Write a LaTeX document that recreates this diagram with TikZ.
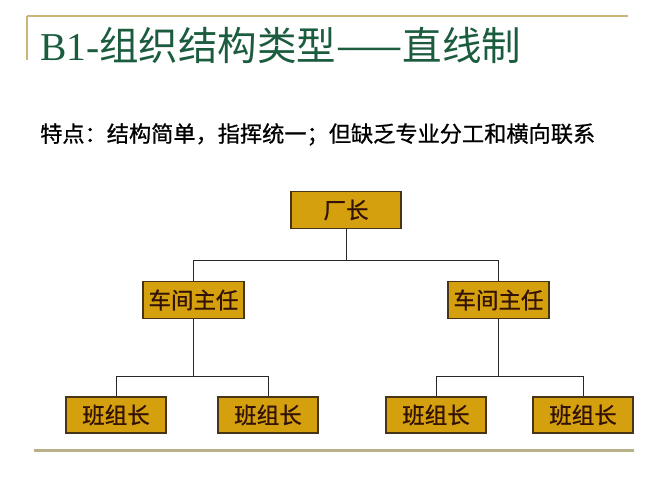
\documentclass[tikz,border=0pt]{standalone}
\usepackage{fontspec}
\setmainfont{Liberation Serif}
\newfontfamily\cjk{Noto Sans CJK SC}
\newfontfamily\cjkheavy{Noto Sans CJK SC}[FakeBold=0.8]
\newfontfamily\lserif{Liberation Serif}
\definecolor{titlegreen}{RGB}{28,92,62}
\definecolor{rulegold}{RGB}{200,182,120}
\definecolor{rulebottom}{RGB}{184,176,134}
\definecolor{boxfill}{RGB}{212,160,14}
\definecolor{boxborder}{RGB}{72,52,22}
\definecolor{boxtext}{RGB}{50,18,6}
\definecolor{connline}{RGB}{40,40,40}
\tikzset{
  orgbox/.style={draw=boxborder, line width=1.4pt, fill=boxfill, text=boxtext,
    font=\cjkheavy\fontsize{22.5}{24}\selectfont, inner sep=0pt, minimum height=37pt},
  conn/.style={draw=connline, line width=1pt},
}
\begin{document}
\begin{tikzpicture}[x=1pt,y=-1pt]
\useasboundingbox (0,0) rectangle (667,500);
% rules
\draw[rulegold, line width=1.5pt] (27,16) coordinate (tl) -- (628,16) coordinate (tr);
\draw[rulegold, line width=1.2pt] (tl) -- (27,60) coordinate (tlb);
\draw[rulebottom, line width=3pt] (34,450) coordinate (bl) -- (634,450) coordinate (br);
% title
\node[anchor=base west, inner sep=0pt, text=titlegreen] (title) at (40,61)
  {\fontsize{39.5}{41}\selectfont\lserif B1-\cjk 组织结构类型——直线制};
% subtitle
\node[anchor=base west, inner sep=0pt, text=black] (sub) at (40,142)
  {\cjkheavy\fontsize{22.2}{24}\selectfont 特点：结构简单，指挥统一；但缺乏专业分工和横向联系};
% boxes
\node[orgbox, minimum width=110pt] (ceo) at (346,210) {厂长};
\node[orgbox, minimum width=101pt] (m1) at (193.5,300) {车间主任};
\node[orgbox, minimum width=101pt] (m2) at (498.5,300) {车间主任};
\node[orgbox, minimum width=100pt, minimum height=36pt] (w1) at (116,415) {班组长};
\node[orgbox, minimum width=100pt, minimum height=36pt] (w2) at (268,415) {班组长};
\node[orgbox, minimum width=100pt, minimum height=36pt] (w3) at (436,415) {班组长};
\node[orgbox, minimum width=100pt, minimum height=36pt] (w4) at (583,415) {班组长};
% bar levels
\coordinate (b1) at (0,260);
\coordinate (b2) at (0,376);
% connectors
\draw[conn] (ceo.south) -- (ceo.south |- b1);
\draw[conn] (m1.north) |- (m2.north |- b1) -- (m2.north);
\draw[conn] (m1.south) -- (m1.south |- b2);
\draw[conn] (w1.north) |- (w2.north |- b2) -- (w2.north);
\draw[conn] (m2.south) -- (m2.south |- b2);
\draw[conn] (w3.north) |- (w4.north |- b2) -- (w4.north);
\end{tikzpicture}
\end{document}
